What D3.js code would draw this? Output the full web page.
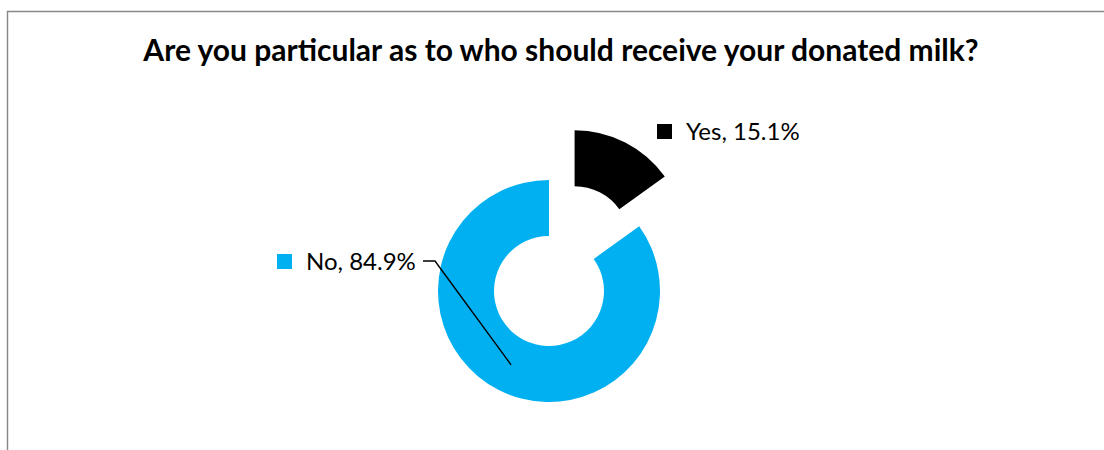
<!DOCTYPE html>
<html>
<head>
<meta charset="utf-8">
<script src="https://cdn.jsdelivr.net/npm/d3@7"></script>
<style>
  html, body { margin: 0; padding: 0; background: #fff; }
  svg { display: block; }
  text { font-family: Lato, "Open Sans", "Liberation Sans", sans-serif; }
</style>
</head>
<body>
<svg id="chart" width="1104" height="450"></svg>
<script>
// Survey answers and their shares (percent)
const categories = ["Yes", "No"];
const shares = [15.1, 84.9];
const colors = ["#000000", "#00B0F0"];
const titleText = "Are you particular as to who should receive your donated milk?";

const width = 1104, height = 450;
const svg = d3.select("#chart");

// chart frame (only left and top edges fall inside the view)
svg.append("path")
  .attr("d", "M7.5,450 L7.5,11.5 L1104,11.5")
  .attr("fill", "none")
  .attr("stroke", "#878787")
  .attr("stroke-width", 1.4);

svg.append("text")
  .attr("x", 561)
  .attr("y", 61)
  .attr("text-anchor", "middle")
  .attr("font-weight", "bold")
  .attr("font-size", 30)
  .attr("fill", "#000")
  .text(titleText);

const cx = 549, cy = 291;
const outerR = 111, innerR = 55;
const explode = 56;

const data = categories.map((c, i) => ({ category: c, value: shares[i], color: colors[i] }));

const pie = d3.pie().sort(null).value(d => d.value);
const arcs = pie(data);
const arc = d3.arc().innerRadius(innerR).outerRadius(outerR);

const g = svg.append("g").attr("transform", `translate(${cx},${cy})`);

g.selectAll("path.slice")
  .data(arcs)
  .join("path")
  .attr("class", "slice")
  .attr("fill", d => d.data.color)
  .attr("transform", d => {
    if (d.data.category !== "Yes") return null;
    const mid = (d.startAngle + d.endAngle) / 2;
    return `translate(${explode * Math.sin(mid)},${-explode * Math.cos(mid)})`;
  })
  .attr("d", arc);

// data labels with colour keys
const labelPos = {
  Yes: { x: 657, y: 124 },
  No: { x: 277, y: 254 }
};

const labels = svg.selectAll("g.label")
  .data(arcs)
  .join("g")
  .attr("class", "label")
  .attr("transform", d => `translate(${labelPos[d.data.category].x},${labelPos[d.data.category].y})`);

labels.append("rect")
  .attr("width", 15)
  .attr("height", 15)
  .attr("fill", d => d.data.color);

labels.append("text")
  .attr("x", 29)
  .attr("y", 16)
  .attr("font-size", 24)
  .attr("fill", "#000")
  .text(d => `${d.data.category}, ${d.data.value.toFixed(1)}%`);

// leader line from the "No" label to the middle of its ring
const noArc = arcs.find(d => d.data.category === "No");
const mid = (noArc.startAngle + noArc.endAngle) / 2;
const rMid = (innerR + outerR) / 2;
const ex = cx + rMid * Math.sin(mid), ey = cy - rMid * Math.cos(mid);
svg.append("path")
  .attr("d", `M423,261 L435,261 L${ex},${ey}`)
  .attr("fill", "none")
  .attr("stroke", "#000")
  .attr("stroke-width", 1.4);
</script>
</body>
</html>
